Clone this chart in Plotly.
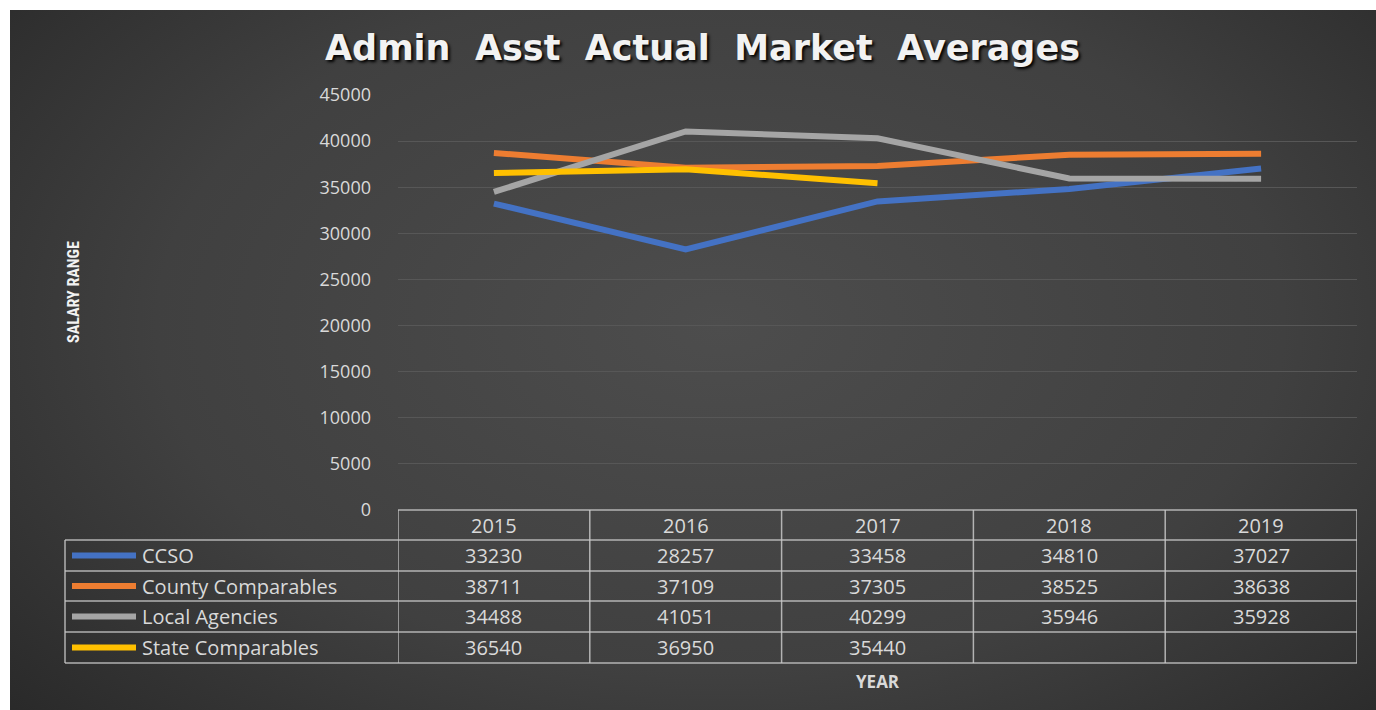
import base64
import plotly.graph_objects as go

# ---------------- data ----------------
years = ["2015", "2016", "2017", "2018", "2019"]
ccso = [33230, 28257, 33458, 34810, 37027]
county = [38711, 37109, 37305, 38525, 38638]
local = [34488, 41051, 40299, 35946, 35928]
state = [36540, 36950, 35440, None, None]

series_names = ["CCSO", "County Comparables", "Local Agencies", "State Comparables"]
series_values = [ccso, county, local, state]
series_colors = ["#4472C4", "#ED7D31", "#A5A5A5", "#FFC000"]

y_ticks = [0, 5000, 10000, 15000, 20000, 25000, 30000, 35000, 40000, 45000]

title_text = "Admin  Asst  Actual  Market  Averages"
y_title = "SALARY RANGE"
x_title = "YEAR"

# ---------------- layout geometry (pixels) ----------------
W, H = 1376, 710
L, R, T, B = 398, 19, 95, 200
PW = W - L - R
PH = H - T - B


def px(xp):
    return (xp - L) / PW


def py(yp):
    return (H - B - yp) / PH


TXT = "#D9D9D9"
GRID = "#575757"
TBL = "rgba(200,200,200,0.85)"
FONT = "Open Sans, DejaVu Sans, sans-serif"

fig = go.Figure()
for name, vals, col in zip(series_names, series_values, series_colors):
    fig.add_trace(go.Scatter(
        x=years, y=vals, name=name, mode="lines",
        line=dict(color=col, width=6), connectgaps=False,
        showlegend=False, hoverinfo="skip",
    ))

# background gradient as svg image
svg = '''<svg xmlns="http://www.w3.org/2000/svg" width="1366" height="700" viewBox="0 0 1366 700">
<defs><radialGradient id="g" cx="0.52" cy="0.45" r="0.75" gradientTransform="translate(0.52 0.45) scale(1 1.2) translate(-0.52 -0.45)">
<stop offset="0" stop-color="#4d4d4d"/><stop offset="0.55" stop-color="#404040"/><stop offset="1" stop-color="#252525"/>
</radialGradient></defs><rect width="1366" height="700" fill="url(#g)"/></svg>'''
uri = "data:image/svg+xml;base64," + base64.b64encode(svg.encode()).decode()
fig.add_layout_image(dict(
    source=uri, xref="paper", yref="paper",
    x=px(10), y=py(10), sizex=(W - 10) / PW, sizey=(H - 10) / PH,
    xanchor="left", yanchor="top", sizing="stretch", layer="below",
))

shapes = []
# table geometry
row_edges = [510, 540, 571, 601, 632, 663]
left_px = 65
# horizontal lines
shapes.append(dict(type="line", xref="x", yref="paper", x0=-0.5, x1=4.5,
                   y0=py(row_edges[0]), y1=py(row_edges[0]), line=dict(color=TBL, width=1.5)))
for ye in row_edges[1:]:
    shapes.append(dict(type="line", xref="paper", yref="paper", x0=px(left_px), x1=1,
                       y0=py(ye), y1=py(ye), line=dict(color=TBL, width=1.5)))
# vertical lines
for i in range(len(years) + 1):
    xe = i - 0.5
    shapes.append(dict(type="line", xref="x", yref="paper", x0=xe, x1=xe,
                       y0=py(row_edges[0]), y1=py(row_edges[-1]), line=dict(color=TBL, width=1.5)))
shapes.append(dict(type="line", xref="paper", yref="paper", x0=px(left_px), x1=px(left_px),
                   y0=py(row_edges[1]), y1=py(row_edges[-1]), line=dict(color=TBL, width=1.5)))

annotations = []
# header years
hc = (row_edges[0] + row_edges[1]) / 2
for i, yr in enumerate(years):
    annotations.append(dict(x=i, y=py(hc), xref="x", yref="paper", text=yr, showarrow=False,
                            font=dict(family=FONT, size=20, color=TXT), xanchor="center", yanchor="middle"))
# rows
for r, (name, vals, col) in enumerate(zip(series_names, series_values, series_colors)):
    rc = (row_edges[r + 1] + row_edges[r + 2]) / 2
    shapes.append(dict(type="line", xref="paper", yref="paper", x0=px(72), x1=px(136),
                       y0=py(rc), y1=py(rc), line=dict(color=col, width=6)))
    annotations.append(dict(x=px(140), y=py(rc), xref="paper", yref="paper", text=name, showarrow=False,
                            font=dict(family=FONT, size=20, color=TXT), xanchor="left", yanchor="middle"))
    for i, v in enumerate(vals):
        if v is None:
            continue
        annotations.append(dict(x=i, y=py(rc), xref="x", yref="paper", text=str(v), showarrow=False,
                                font=dict(family=FONT, size=20, color=TXT), xanchor="center", yanchor="middle"))

# axis titles
annotations.append(dict(x=0.5, y=py(681), xref="paper", yref="paper", text=f"<b>{x_title}</b>", showarrow=False,
                        font=dict(family=FONT, size=17, color=TXT), xanchor="center", yanchor="middle"))
annotations.append(dict(x=px(73), y=py(292), xref="paper", yref="paper", text=f"<b>{y_title}</b>", showarrow=False,
                        textangle=-90, font=dict(family="Liberation Sans Narrow, Roboto Condensed, sans-serif",
                                                 size=16, color="#F2F2F2"),
                        xanchor="center", yanchor="middle"))
# title
annotations.append(dict(x=px(702), y=py(48), xref="paper", yref="paper", text=f"<b>{title_text}</b>",
                        showarrow=False, xanchor="center", yanchor="middle",
                        font=dict(family="DejaVu Sans, sans-serif", size=35, color="#F2F2F2",
                                  shadow="2px 2px 3px #000000")))

fig.update_layout(
    width=W, height=H,
    margin=dict(l=L, r=R, t=T, b=B, pad=0),
    paper_bgcolor="white",
    plot_bgcolor="rgba(0,0,0,0)",
    shapes=shapes,
    annotations=annotations,
    xaxis=dict(type="category", range=[-0.5, 4.5], showticklabels=False, showgrid=False,
               zeroline=False, showline=False, ticks=""),
    yaxis=dict(range=[0, 45000], tickvals=y_ticks, tickformat="d", showgrid=True, gridcolor=GRID, gridwidth=1,
               zeroline=False, showline=False, ticks="", ticklabelstandoff=26,
               tickfont=dict(family=FONT, size=18, color=TXT)),
    showlegend=False,
)

fig.write_html("out.html", config={"displayModeBar": False},
               post_script="document.body.style.margin='0';")
